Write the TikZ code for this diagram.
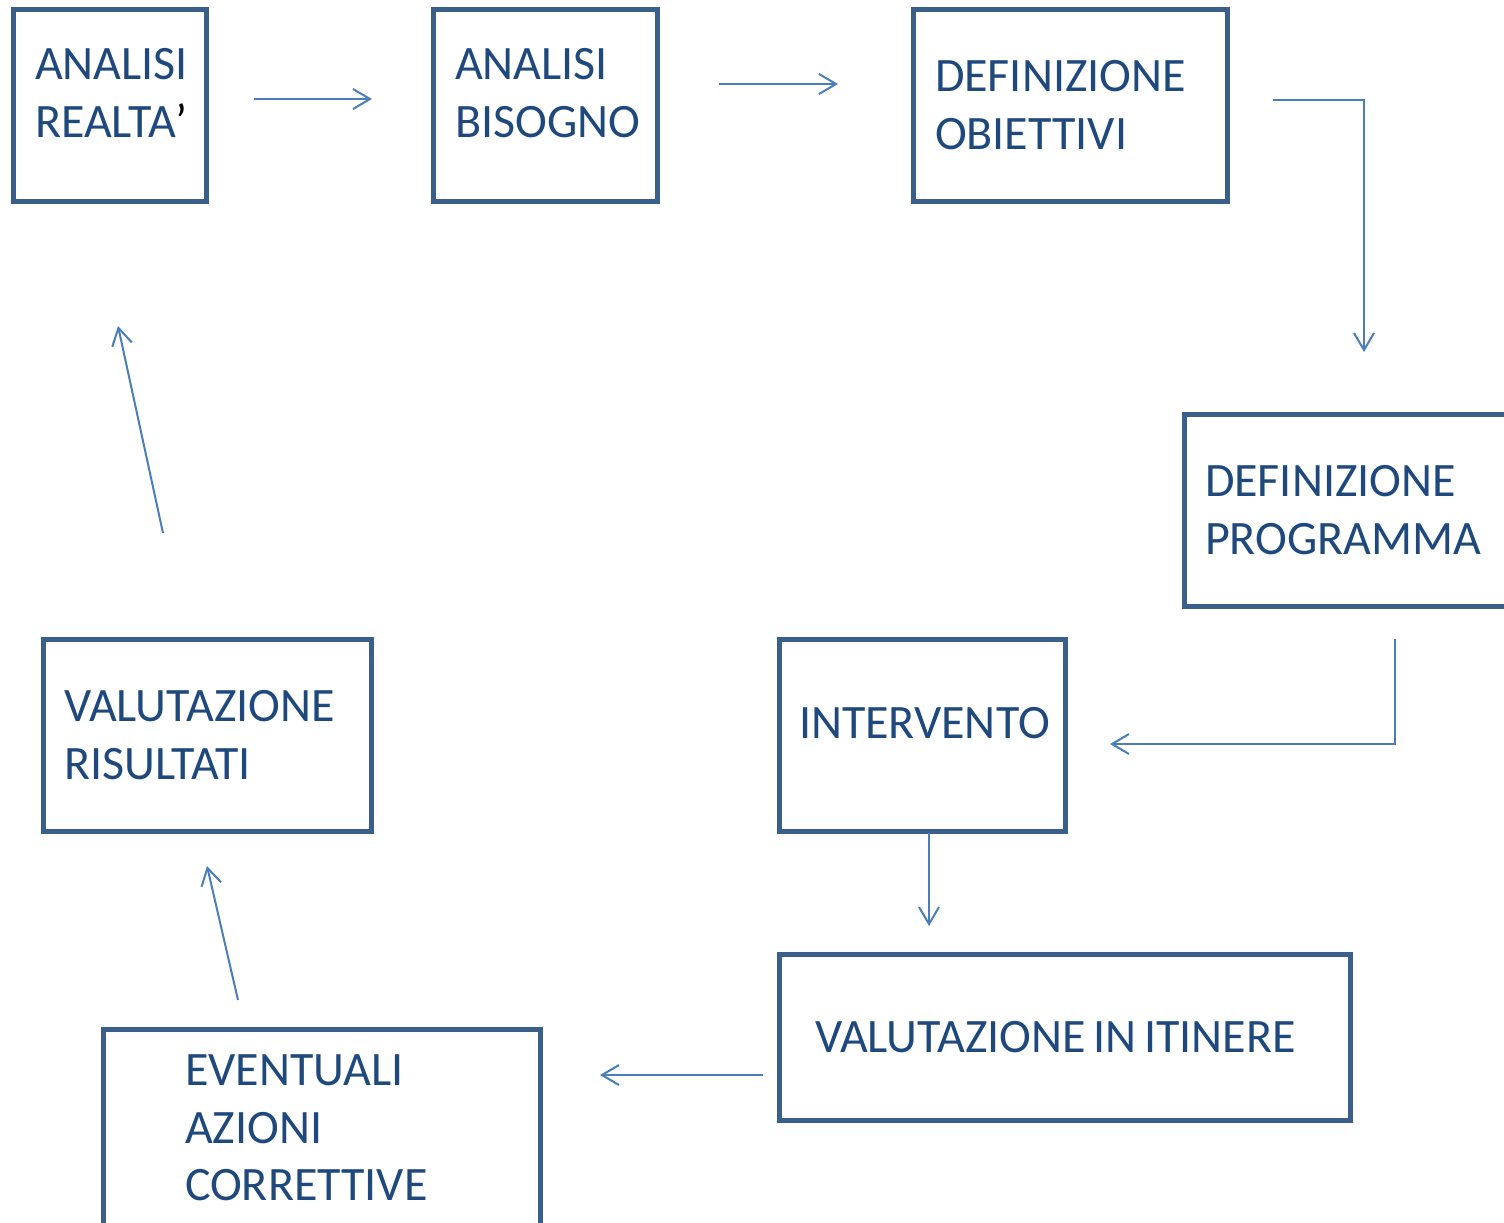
\documentclass[tikz,border=0pt]{standalone}
\usepackage{fontspec}
\setmainfont{Carlito}
\usepackage{tikz}
\usetikzlibrary{arrows.meta, positioning}
\usepackage{xcolor}
\definecolor{boxcolor}{RGB}{58,95,139}
\definecolor{txtcolor}{RGB}{31,73,125}
\definecolor{arrowcolor}{RGB}{74,126,187}
\hyphenpenalty=10000
\newcommand{\liftline}{\rule[-12pt]{0pt}{12pt}}

\begin{document}
\begin{tikzpicture}[
    x=0.5pt, y=-0.5pt,
    box/.style={rectangle, draw=boxcolor, line width=2.5pt, outer sep=0pt, inner xsep=0pt, align=left, text=txtcolor, font=\fontsize{24}{28.75}\selectfont},
    arrow/.style={-{Straight Barb[length=8.5pt, width=10pt]}, draw=arrowcolor, line width=1pt}
]
\path[use as bounding box] (0,0) rectangle (1504,1222);
\clip (0,0) rectangle (1504,1222);

\node[box, minimum width=96.5pt, minimum height=96pt, text width=74.5pt] (realta) at (109.5,105) {ANALISI\\REALTA{\color{black}’}\liftline};
\node[box, minimum width=112pt, minimum height=96pt, text width=90pt] (bisogno) at (545,105) {ANALISI\\BISOGNO\liftline};
\node[box, minimum width=157pt, minimum height=96pt, text width=135pt] (obiettivi) at (1070,105) {DEFINIZIONE\\OBIETTIVI};
\node[box, minimum width=165pt, minimum height=96pt, text width=144pt] (programma) at (1349,510) {DEFINIZIONE\\PROGRAMMA};
\node[box, minimum width=143pt, minimum height=96pt, text width=123pt] (intervento) at (922,735) {INTERVENTO\liftline};
\node[box, minimum width=164pt, minimum height=96pt, text width=143pt] (risultati) at (207,735) {VALUTAZIONE\\RISULTATI};
\node[box, minimum width=285.5pt, minimum height=83pt, text width=249.5pt] (itinere) at (1064.5,1037) {\spaceskip=0.7\fontdimen2\font\mbox{VALUTAZIONE IN ITINERE}};
\node[box, minimum width=218.5pt, minimum height=99pt, text width=136.5pt] (correttive) at (321.5,1128) {EVENTUALI\\AZIONI\\CORRETTIVE};

\draw[arrow] ([shift={(48,-6)}]realta.east) -- ([shift={(-61,-6)}]bisogno.west);
\draw[arrow] ([shift={(62,-21)}]bisogno.east) -- ([shift={(-75,-21)}]obiettivi.west);
\draw[arrow] ([shift={(46,-5)}]obiettivi.east) -| ([shift={(15,-62)}]programma.north);
\draw[arrow] ([shift={(46,33)}]programma.south) |- ([shift={(45,9)}]intervento.east);
\draw[arrow] ([shift={(7,2)}]intervento.south) -- ([shift={(-135.5,-28)}]itinere.north);
\draw[arrow] ([shift={(-16,38)}]itinere.west) -- ([shift={(60,-53)}]correttive.east);
\draw[arrow] ([shift={(-83.5,-29)}]correttive.north) -- ([shift={(0,35)}]risultati.south);
\draw[arrow] ([shift={(-44,-106)}]risultati.north) -- ([shift={(8.5,125)}]realta.south);
\end{tikzpicture}
\end{document}
